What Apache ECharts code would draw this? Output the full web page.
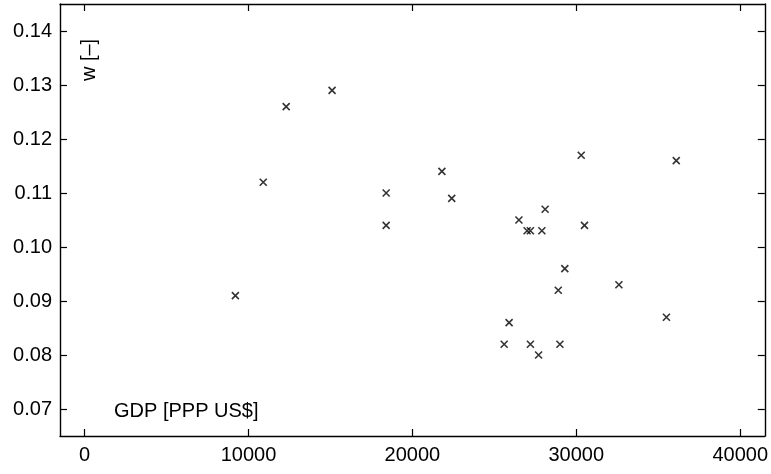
<!DOCTYPE html>
<html>
<head>
<meta charset="utf-8">
<script src="https://cdn.jsdelivr.net/npm/echarts@6/dist/echarts.min.js"></script>
<style>
  html, body { margin: 0; padding: 0; background: #fff; }
  #chart { width: 771px; height: 474px; }
</style>
</head>
<body>
<div id="chart"></div>
<script>
// GDP per capita (PPP US$) and the corresponding w value, one entry per country
const gdp = [15100, 12300, 10900, 21800, 18400, 22400, 18400, 9200,
             30300, 36100, 28100, 26500, 27000, 27200, 27900, 30500,
             29300, 28900, 32600, 35500, 25900, 25600, 27200, 29000, 27700];
const w   = [0.129, 0.126, 0.112, 0.114, 0.110, 0.109, 0.104, 0.091,
             0.117, 0.116, 0.107, 0.105, 0.103, 0.103, 0.103, 0.104,
             0.096, 0.092, 0.093, 0.087, 0.086, 0.082, 0.082, 0.082, 0.080];

// axis tick values
const xTicks = [0, 10000, 20000, 30000, 40000];
const yTicks = [0.07, 0.08, 0.09, 0.10, 0.11, 0.12, 0.13, 0.14];

const FONT = '"Liberation Sans", Arial, Helvetica, sans-serif';
const points = gdp.map((g, i) => [g, w[i]]);

const chart = echarts.init(document.getElementById('chart'), null, { renderer: 'canvas' });

const axisLineStyle = { color: '#000', width: 1.4 };
const tickStyle = { color: '#000', width: 1.2 };

chart.setOption({
  animation: false,
  backgroundColor: '#fff',
  grid: { left: 60, top: 4, right: 5, bottom: 38, containLabel: false },
  xAxis: [
    {
      type: 'value', position: 'bottom', min: -1500, max: 41500,
      splitLine: { show: false },
      axisLine: { show: true, onZero: false, lineStyle: axisLineStyle },
      axisTick: { show: true, inside: true, length: 7, lineStyle: tickStyle, customValues: xTicks },
      axisLabel: { show: true, customValues: xTicks, margin: 9, color: '#000',
                   fontFamily: FONT, fontSize: 20,
                   formatter: v => String(v) }
    },
    {
      type: 'value', position: 'top', min: -1500, max: 41500,
      splitLine: { show: false },
      axisLine: { show: true, onZero: false, lineStyle: axisLineStyle },
      axisTick: { show: true, inside: true, length: 7, lineStyle: tickStyle, customValues: xTicks },
      axisLabel: { show: false }
    }
  ],
  yAxis: [
    {
      type: 'value', position: 'left', min: 0.065, max: 0.145,
      splitLine: { show: false },
      axisLine: { show: true, onZero: false, lineStyle: axisLineStyle },
      axisTick: { show: true, inside: true, length: 7, lineStyle: tickStyle, customValues: yTicks },
      axisLabel: { show: true, customValues: yTicks, margin: 8, color: '#000',
                   fontFamily: FONT, fontSize: 20,
                   formatter: v => v.toFixed(2) }
    },
    {
      type: 'value', position: 'right', min: 0.065, max: 0.145,
      splitLine: { show: false },
      axisLine: { show: true, onZero: false, lineStyle: axisLineStyle },
      axisTick: { show: true, inside: true, length: 7, lineStyle: tickStyle, customValues: yTicks },
      axisLabel: { show: false }
    }
  ],
  graphic: [
    {
      type: 'text', x: 89.5, y: 60, rotation: Math.PI / 2,
      style: { text: 'w [–]', fill: '#000', font: '20px ' + FONT,
               align: 'center', verticalAlign: 'middle' }
    },
    {
      type: 'text', x: 114, y: 411,
      style: { text: 'GDP [PPP US$]', fill: '#000', font: '20px ' + FONT,
               align: 'left', verticalAlign: 'middle' }
    }
  ],
  series: [
    {
      type: 'scatter',
      xAxisIndex: 0, yAxisIndex: 0,
      data: points,
      symbol: 'path://M0,0L10,10M10,0L0,10',
      symbolSize: 7,
      itemStyle: { color: '#000', borderColor: '#000', borderWidth: 1.6 }
    }
  ]
});
</script>
</body>
</html>
